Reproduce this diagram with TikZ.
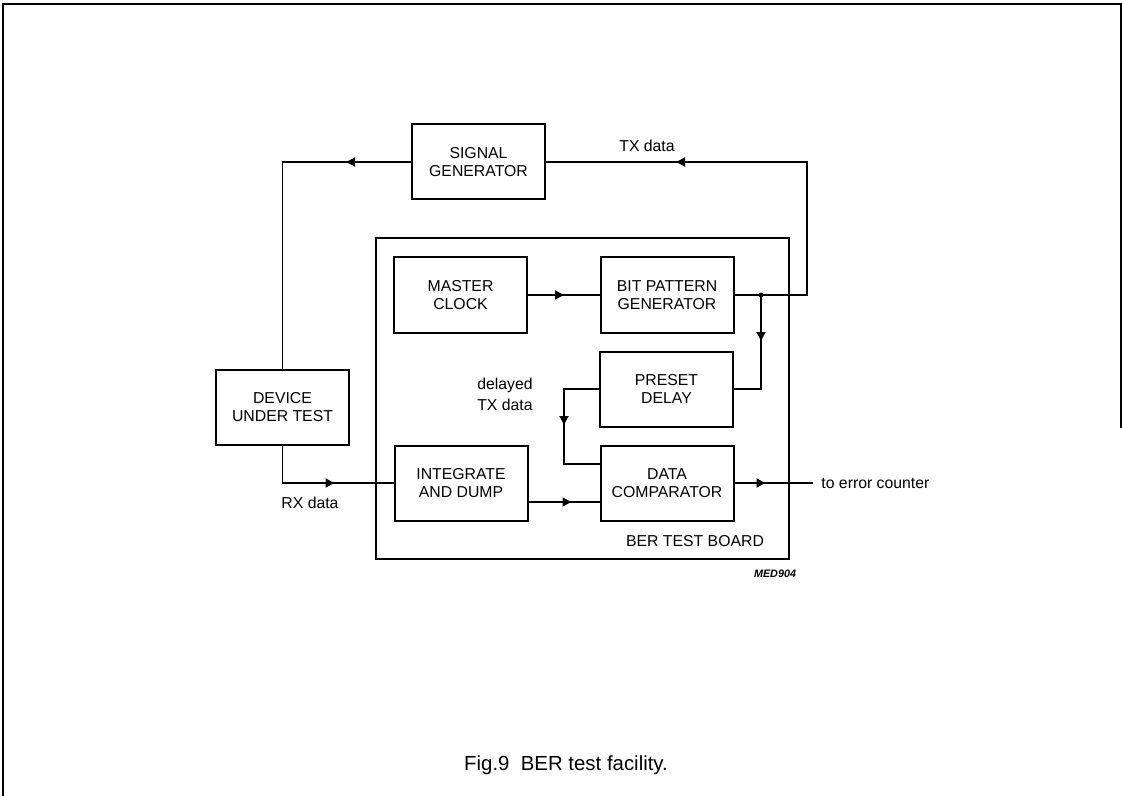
\documentclass[tikz,border=0pt]{standalone}
\usepackage{fontspec}
\setmainfont{Liberation Sans}
\usetikzlibrary{arrows.meta,decorations.markings,calc}
\tikzset{
  blk/.style={draw, line width=1pt, minimum width=66.5pt, minimum height=37.5pt,
    align=center, inner sep=0pt, outer sep=0pt, font=\fontsize{7.9}{9}\selectfont},
  conn/.style={line width=0.7pt},
  arrowat/.style={postaction={decorate}, decoration={markings,
    mark=at position #1 with {\arrow{Latex[length=5pt,width=5pt]}}}},
  lbl/.style={font=\fontsize{7.9}{10.5}\selectfont, inner sep=0pt, align=center},
  frame/.style={line width=1.1pt},
}
\begin{document}
\begin{tikzpicture}[x=0.5pt, y=-0.5pt]
\useasboundingbox (0,0) rectangle (1122,796);
% page frame
\draw[frame] (3,796) -- (3,4) -- (1122,4);
\draw[line width=0.8pt] (1121,4) -- (1121,428);

% board
\node[draw, line width=1pt, minimum width=206.5pt, minimum height=160.5pt, inner sep=0pt, outer sep=0pt] (board) at (582.5,398.5) {};

% blocks
\node[blk] (SG)  at (478.5,162)   {SIGNAL\\GENERATOR};
\node[blk] (MC)  at (460.5,295)   {MASTER\\CLOCK};
\node[blk] (BPG) at (667,295)     {BIT PATTERN\\GENERATOR};
\node[blk] (PD)  at (666.5,389)   {PRESET\\DELAY};
\node[blk] (DC)  at (667,483)     {DATA\\COMPARATOR};
\node[blk] (IAD) at (461,483)     {INTEGRATE\\AND DUMP};
\node[blk] (DUT) at (282.5,407.5) {DEVICE\\UNDER TEST};

% labels
\node[lbl] (tx) at (647,146) {TX data};
\node[lbl] (rx) at (310,503) {RX data};
\node[lbl, align=right, anchor=east] (dly) at (533,394) {delayed\\TX data};
\node[lbl] (bertb) at (695,541) {BER TEST BOARD};
\node[font=\fontsize{5.4}{6}\selectfont\itshape\bfseries, inner sep=0pt] (med) at (775,574) {MED904};
\node[font=\fontsize{10.2}{12}\selectfont, inner sep=0pt] (cap) at (566,765) {Fig.9~~BER test facility.};
\node[lbl, anchor=west, inner xsep=4pt] (err) at (813,483) {to error counter};

% connectors
\coordinate (j) at (761,295);
\coordinate (dc1) at ($(DC.west)+(0,-19)$);
\coordinate (dc2) at ($(DC.west)+(0,19)$);

\draw[conn, arrowat=33.5pt] (SG.west) -| (DUT.north);
\draw[conn] (BPG.east) -- (j);
\fill (j) circle (1.2pt);
\draw[conn, arrowat=155.5pt] (j) -- ++(46,0) |- (SG.east);
\draw[conn, arrowat=23.5pt] (j) |- (PD.east);
\draw[conn, arrowat=36.5pt] (PD.west) -- ++(-36,0) |- (dc1);
\draw[conn, arrowat=22.5pt] (IAD.east |- dc2) -- (dc2);
\draw[conn, arrowat=45.5pt] (DUT.south) |- (IAD.west);
\draw[conn, arrowat=19pt] (MC.east) -- (BPG.west);
\draw[conn, arrowat=16.5pt] (DC.east) -- (err.west);
\end{tikzpicture}
\end{document}
